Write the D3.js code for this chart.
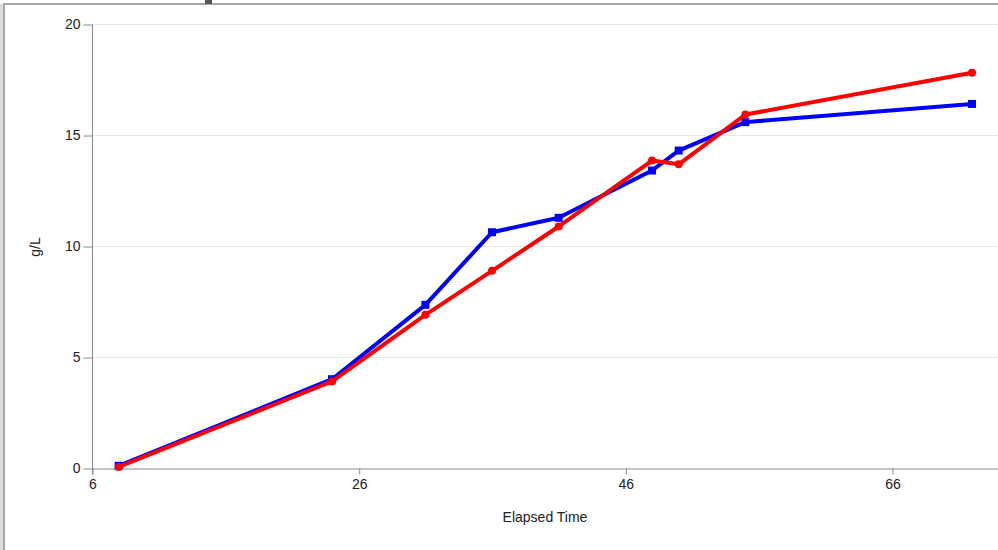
<!DOCTYPE html>
<html>
<head>
<meta charset="utf-8">
<script src="https://cdn.jsdelivr.net/npm/d3@7"></script>
<style>
  html, body { margin: 0; padding: 0; background: #fff; overflow: hidden; }
  svg { display: block; font-family: "Liberation Sans", Arial, sans-serif; }
  .tick text { font-size: 14px; fill: #222; }
  .axis path, .axis line { stroke: #888; }
</style>
</head>
<body>
<div id="chart"></div>
<script>
// data
const elapsed = [8, 24, 31, 36, 41, 48, 50, 55, 72];
const blueSeries = [0.1, 4.0, 7.35, 10.62, 11.27, 13.4, 14.3, 15.58, 16.4];
const redSeries = [0.05, 3.9, 6.9, 8.88, 10.88, 13.85, 13.68, 15.92, 17.8];
const xTicks = [6, 26, 46, 66];
const yTicks = [0, 5, 10, 15, 20];

const w = 998, h = 550;
const svg = d3.select("#chart").append("svg")
  .attr("width", w)
  .attr("height", h);

// window frame bits
svg.append("rect").attr("x", 0).attr("y", 4).attr("width", 3).attr("height", h).attr("fill", "#dcdcdc");
svg.append("rect").attr("x", 3).attr("y", 3).attr("width", w).attr("height", 2).attr("fill", "#a6a6a6");
svg.append("rect").attr("x", 3).attr("y", 3).attr("width", 2).attr("height", h).attr("fill", "#a6a6a6");
svg.append("rect").attr("x", 205).attr("y", 0).attr("width", 7).attr("height", 4).attr("fill", "#555");

// scales
const x = d3.scaleLinear().domain([6, 74]).range([92, 998.7]);
const y = d3.scaleLinear().domain([0, 20]).range([468, 24]);

// gridlines
svg.append("g")
  .selectAll("line")
  .data(yTicks.filter(d => d > 0))
  .enter()
  .append("line")
  .attr("x1", 92)
  .attr("x2", w)
  .attr("y1", d => y(d) + 0.5)
  .attr("y2", d => y(d) + 0.5)
  .attr("stroke", "#e8e8e8")
  .attr("stroke-width", 1);

// axes
const xAxis = d3.axisBottom(x).tickValues(xTicks).tickSize(6).tickSizeOuter(0).tickPadding(5);
svg.append("g")
  .attr("class", "axis")
  .attr("transform", "translate(0.5,468.5)")
  .call(xAxis);

const yAxis = d3.axisLeft(y).tickValues(yTicks).tickSize(9).tickSizeOuter(0).tickPadding(3);
const yg = svg.append("g")
  .attr("class", "axis")
  .attr("transform", "translate(92.5,0.5)")
  .call(yAxis);
yg.select(".domain").attr("d", `M0,${y(20)}V${y(0) + 6}`);

// axis titles
svg.append("text")
  .attr("x", 545)
  .attr("y", 522)
  .attr("text-anchor", "middle")
  .style("font-size", "14px")
  .style("fill", "#222")
  .text("Elapsed Time");

svg.append("text")
  .attr("transform", "translate(40,247) rotate(-90)")
  .attr("text-anchor", "middle")
  .style("font-size", "14px")
  .style("fill", "#222")
  .text("g/L");

// lines
const line = d3.line()
  .x(d => x(d[0]))
  .y(d => y(d[1]));

const blueData = elapsed.map((t, i) => [t, blueSeries[i]]);
const redData = elapsed.map((t, i) => [t, redSeries[i]]);

svg.append("path")
  .datum(blueData)
  .attr("d", line)
  .attr("fill", "none")
  .attr("stroke", "#0000ff")
  .attr("stroke-width", 4)
  .attr("stroke-linejoin", "round");

svg.selectAll("rect.blue")
  .data(blueData)
  .enter()
  .append("rect")
  .attr("class", "blue")
  .attr("x", d => x(d[0]) - 4)
  .attr("y", d => y(d[1]) - 4)
  .attr("width", 8)
  .attr("height", 8)
  .attr("fill", "#0000ff");

svg.append("path")
  .datum(redData)
  .attr("d", line)
  .attr("fill", "none")
  .attr("stroke", "#ff0000")
  .attr("stroke-width", 4)
  .attr("stroke-linejoin", "round");

svg.selectAll("circle.red")
  .data(redData)
  .enter()
  .append("circle")
  .attr("class", "red")
  .attr("cx", d => x(d[0]))
  .attr("cy", d => y(d[1]))
  .attr("r", 4)
  .attr("fill", "#ff0000");
</script>
</body>
</html>
